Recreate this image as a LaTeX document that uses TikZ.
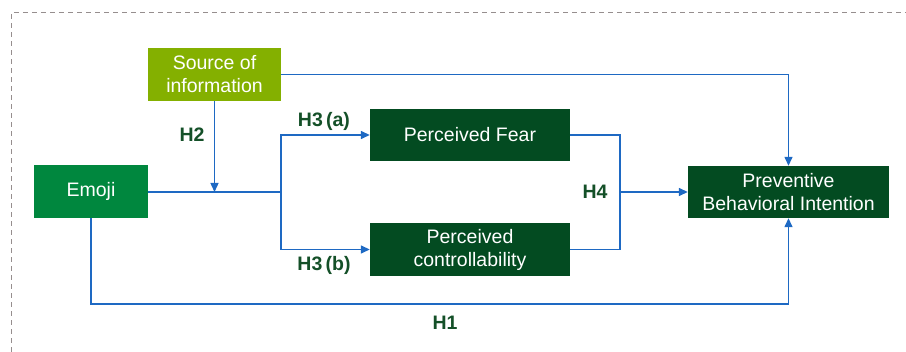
\documentclass[tikz,border=0pt]{standalone}
\usepackage{fontspec}
\setmainfont{Liberation Sans}
\usetikzlibrary{arrows.meta}
\definecolor{srcgreen}{RGB}{132,176,0}
\definecolor{emojigreen}{RGB}{0,135,62}
\definecolor{darkgreen}{RGB}{3,75,33}
\definecolor{labelgreen}{RGB}{20,80,40}
\definecolor{linkblue}{RGB}{30,105,195}
\definecolor{framegray}{RGB}{150,142,142}
\begin{document}
\begin{tikzpicture}[x=1pt,y=-1pt,
  box/.style={draw=none,inner sep=0pt,align=center,text=white,
    font=\fontsize{19.5}{23}\selectfont},
  hyp/.style={text=labelgreen,font=\fontsize{19.5}{23}\selectfont\bfseries,inner sep=0pt},
  link/.style={draw=linkblue,line width=1.4pt},
  arr/.style={link,-{Triangle[length=9pt,width=8pt]}}]
\useasboundingbox (0,0) rectangle (906,352);
\draw[framegray,line width=1pt,dash pattern=on 5pt off 4pt] (11,352) -- (11,13) -- (906,13);
\node[box,fill=srcgreen,minimum width=133pt,minimum height=53pt] (src) at (214.5,74.5) {Source of\\information};
\node[box,fill=emojigreen,minimum width=114pt,minimum height=53pt] (emoji) at (91,191.5) {Emoji};
\node[box,fill=darkgreen,minimum width=200pt,minimum height=52pt] (fear) at (470,135) {Perceived Fear};
\node[box,fill=darkgreen,minimum width=200pt,minimum height=53pt] (ctrl) at (470,249.5) {Perceived\\controllability};
\node[box,fill=darkgreen,minimum width=201pt,minimum height=52pt] (pbi) at (788.5,192) {Preventive\\Behavioral Intention};
\coordinate (j1) at (214.5,192);
\coordinate (br) at (281,192);
\coordinate (mg) at (620,192);
\coordinate (low) at (0,304);
\draw[link] (emoji.east |- br) -- (br);
\draw[arr] (src.south) -- (j1);
\draw[arr] (br) |- (fear.west);
\draw[arr] (br) |- (ctrl.west);
\draw[arr] (src.east) -| (pbi.north);
\draw[link] (fear.east) -| (mg);
\draw[link] (ctrl.east) -| (mg);
\draw[arr] (mg) -- (pbi.west);
\draw[arr] (emoji.south) -- (emoji.south |- low) -| (pbi.south);
\node[hyp] (h2) at (192,135) {H2};
\node[hyp] (h3a) at (324,121) {H3\,(a)};
\node[hyp] (h3b) at (324,265) {H3\,(b)};
\node[hyp] (h4) at (595,192) {H4};
\node[hyp] (h1) at (445,323) {H1};
\end{tikzpicture}
\end{document}
